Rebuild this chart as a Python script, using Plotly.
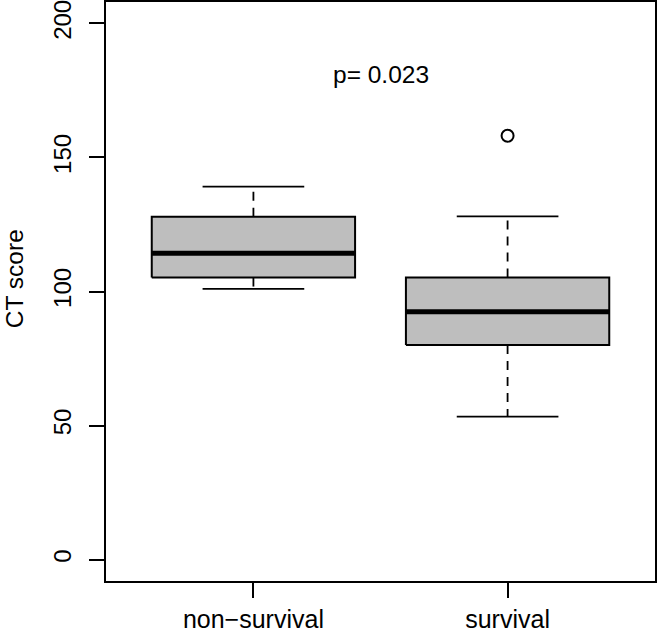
import plotly.graph_objects as go

categories = ["non\u2212survival", "survival"]
lower_whisker = [101, 53.3]
q1 = [105.2, 80.0]
median = [114.3, 92.4]
q3 = [127.9, 105.2]
upper_whisker = [139.1, 128.0]
outlier_group = [2]
outlier_values = [158.1]
p_text = "p= 0.023"
y_ticks = [0, 50, 100, 150, 200]

BOX_HALF = 0.4
CAP_HALF = 0.2
FONT = "Liberation Sans, Arial, Helvetica, sans-serif"
FS = 24

fig = go.Figure()
for i, cat in enumerate(categories):
    x = i + 1
    fig.add_trace(go.Scatter(x=[x, x], y=[q3[i], upper_whisker[i]], mode="lines",
                             line=dict(color="black", width=1.8, dash="9px,7px"), showlegend=False, hoverinfo="skip"))
    fig.add_trace(go.Scatter(x=[x, x], y=[q1[i], lower_whisker[i]], mode="lines",
                             line=dict(color="black", width=1.8, dash="9px,7px"), showlegend=False, hoverinfo="skip"))
    for v in (upper_whisker[i], lower_whisker[i]):
        fig.add_trace(go.Scatter(x=[x - CAP_HALF, x + CAP_HALF], y=[v, v], mode="lines",
                                 line=dict(color="black", width=1.8), showlegend=False, hoverinfo="skip"))
    fig.add_trace(go.Scatter(x=[x - BOX_HALF, x + BOX_HALF, x + BOX_HALF, x - BOX_HALF, x - BOX_HALF],
                             y=[q1[i], q1[i], q3[i], q3[i], q1[i]], mode="lines", fill="toself",
                             fillcolor="#BEBEBE", line=dict(color="black", width=2),
                             showlegend=False, hoverinfo="skip"))
    fig.add_trace(go.Scatter(x=[x - BOX_HALF, x + BOX_HALF], y=[median[i], median[i]], mode="lines",
                             line=dict(color="black", width=5), showlegend=False, hoverinfo="skip"))

fig.add_trace(go.Scatter(x=outlier_group, y=outlier_values, mode="markers",
                         marker=dict(symbol="circle-open", size=12, color="black", line=dict(width=2)),
                         showlegend=False, hoverinfo="skip"))

fig.add_annotation(x=1.5, y=181, text=p_text, showarrow=False, xref="x", yref="y",
                   font=dict(family=FONT, size=24.5, color="black"))
fig.add_annotation(x=-0.1676, y=0.523, xref="paper", yref="paper", text="CT score", textangle=-90,
                   xanchor="center", yanchor="middle",
                   showarrow=False, font=dict(family=FONT, size=24.5, color="black"))

fig.update_layout(
    width=659, height=632,
    margin=dict(l=106, r=4, t=2, b=51),
    plot_bgcolor="white", paper_bgcolor="white",
    font=dict(family=FONT, size=FS, color="black"),
    xaxis=dict(range=[0.42, 2.58], tickvals=[1, 2], ticktext=categories, ticks="outside",
               ticklen=15, tickwidth=1.8, tickcolor="black", showgrid=False, zeroline=False,
               showline=True, linecolor="black", linewidth=2, mirror=True, automargin=False,
               ticklabelstandoff=0, tickfont=dict(family=FONT, size=25)),
    yaxis=dict(range=[-8, 208], tickvals=y_ticks, ticks="outside", ticklen=15, tickwidth=1.8,
               tickcolor="black", showgrid=False, zeroline=False, showline=True, linecolor="black",
               linewidth=2, mirror=True, tickangle=-90, ticklabelstandoff=8, automargin=False,
               ticklabeloverflow="allow", tickfont=dict(family=FONT, size=FS)),
)

fig.write_html("out.html", config={"displayModeBar": False},
               post_script="document.body.style.margin='0';document.body.style.padding='0';")
